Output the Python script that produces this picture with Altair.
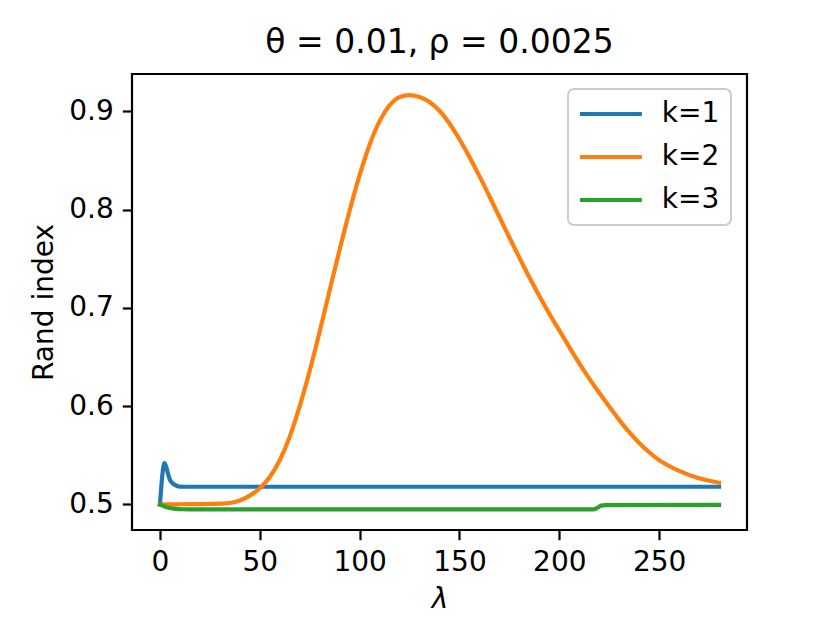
import altair as alt
import pandas as pd

# ---- data ----
series_names = ["k=1", "k=2", "k=3"]
series_colors = ["#1f77b4", "#ff7f0e", "#2ca02c"]

lam_k1 = [0, 2.3, 3.3, 4.2, 5, 6.7, 8.3, 10, 15, 280]
ri_k1 = [0.500, 0.542, 0.537, 0.530, 0.525, 0.521, 0.519, 0.5182, 0.518, 0.518]

lam_k2 = [0, 10, 20, 25, 30, 35, 40, 45, 50, 55, 60, 65, 70, 75, 80, 85, 90, 95,
          100, 105, 110, 115, 120, 125, 130, 135, 140, 145, 150, 155, 160, 165,
          170, 175, 180, 185, 190, 195, 200, 205, 210, 215, 220, 225, 230, 235,
          240, 245, 250, 255, 260, 265, 270, 275, 280]
ri_k2 = [0.5000, 0.5002, 0.5003, 0.5005, 0.5008, 0.5015, 0.5040, 0.5090, 0.5165,
         0.5280, 0.5450, 0.5690, 0.6000, 0.6360, 0.6760, 0.7180, 0.7595, 0.7990,
         0.8350, 0.8660, 0.8900, 0.9060, 0.9145, 0.9166, 0.9146, 0.9096, 0.9006,
         0.8876, 0.8716, 0.8536, 0.8341, 0.8136, 0.7926, 0.7716, 0.7511, 0.7311,
         0.7121, 0.6941, 0.6771, 0.6601, 0.6436, 0.6281, 0.6136, 0.5996, 0.5861,
         0.5736, 0.5626, 0.5531, 0.5451, 0.5391, 0.5341, 0.5301, 0.5266, 0.5241,
         0.5221]

lam_k3 = [0, 1, 3.3, 6.7, 11.7, 20, 217, 219, 221, 223, 280]
ri_k3 = [0.500, 0.499, 0.4971, 0.4957, 0.4951, 0.4950, 0.4950, 0.4965, 0.4988,
         0.4993, 0.4995]

x_ticks = [0, 50, 100, 150, 200, 250]
y_ticks = [0.5, 0.6, 0.7, 0.8, 0.9]
x_domain = [-14, 294]
y_domain = [0.474, 0.938]

rows = []
for name, lams, vals in zip(series_names, [lam_k1, lam_k2, lam_k3], [ri_k1, ri_k2, ri_k3]):
    for l, v in zip(lams, vals):
        rows.append({"lam": l, "ri": v, "series": name})
df = pd.DataFrame(rows)

FONT = "DejaVu Sans"

chart = alt.Chart(df).mark_line(
    strokeWidth=4.2, interpolate="monotone", strokeCap="square", strokeJoin="round"
).encode(
    x=alt.X("lam:Q",
            scale=alt.Scale(domain=x_domain, nice=False, zero=False),
            axis=alt.Axis(values=x_ticks, title="λ", titleFontStyle="italic",
                          titleFontWeight="normal", titlePadding=9)),
    y=alt.Y("ri:Q",
            scale=alt.Scale(domain=y_domain, nice=False, zero=False),
            axis=alt.Axis(values=y_ticks, format=".1f", title="Rand index",
                          titleFontWeight="normal", titlePadding=10)),
    color=alt.Color("series:N",
                    scale=alt.Scale(domain=series_names, range=series_colors),
                    legend=alt.Legend(
                        title=None, orient="none", legendX=436, legendY=15,
                        symbolType="M-2.62,0H9.78", symbolSize=100, symbolStrokeWidth=4.2,
                        symbolFillColor="transparent",
                        labelFontSize=28, labelFont=FONT, labelColor="black",
                        labelOffset=54.8, padding=11, rowPadding=15,
                        strokeColor="#cccccc", fillColor="rgba(255,255,255,0.8)",
                        cornerRadius=6)),
    order=alt.Order("lam:Q"),
).properties(
    width=615,
    height=456,
    title=alt.TitleParams("θ = 0.01, ρ = 0.0025", fontSize=33, font=FONT,
                          fontWeight="normal", color="black", anchor="middle",
                          offset=14),
    autosize=alt.AutoSizeParams(type="none"),
    padding={"left": 124, "top": 66, "right": 75, "bottom": 85},
).configure_view(
    stroke="black", strokeWidth=2.2
).configure_legend(
    strokeWidth=2
).configure_axis(
    domain=False, grid=False,
    tickColor="black", tickWidth=2.2, tickSize=9.7,
    labelFont=FONT, labelFontSize=28, labelColor="black", labelPadding=9,
    titleFont=FONT, titleFontSize=28, titleColor="black",
)

chart.save("out.html", embed_options={"renderer": "svg", "actions": False})
